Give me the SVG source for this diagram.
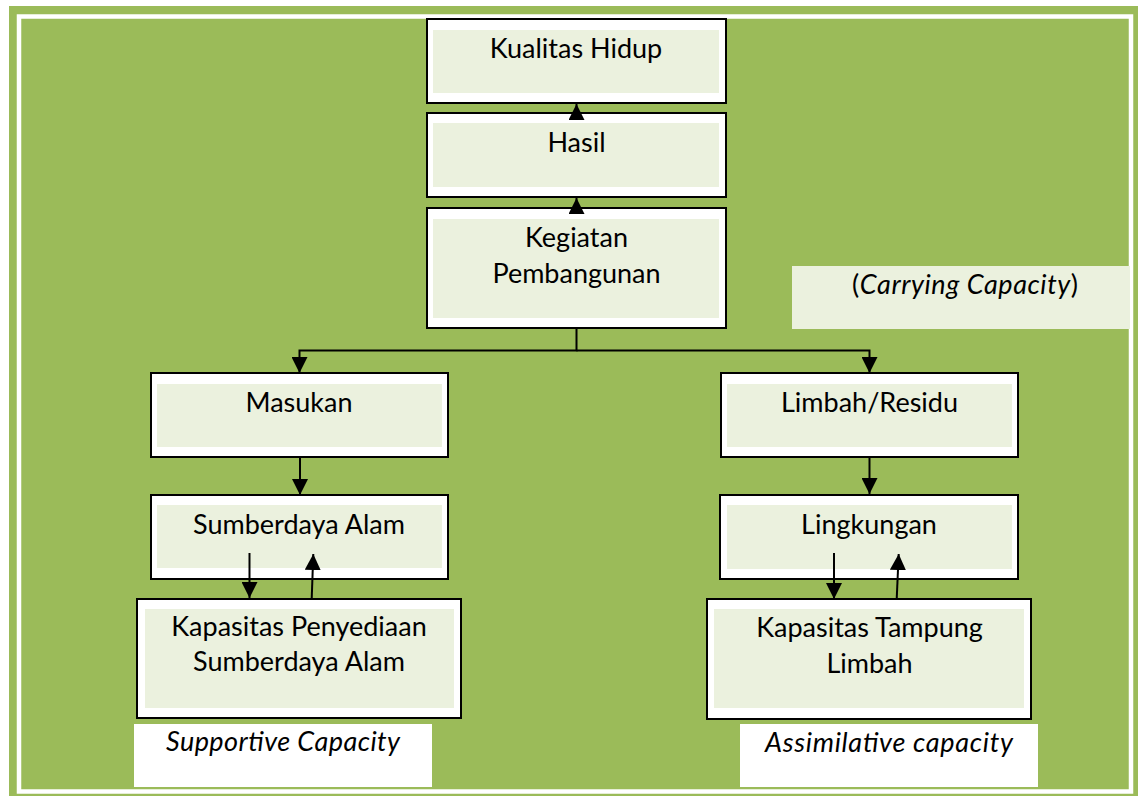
<svg xmlns="http://www.w3.org/2000/svg" width="1138" height="796" viewBox="0 0 1138 796">
<defs>
<style>
.bg{fill:#9BBB59}
.frame{fill:none;stroke:#FFFFFF;stroke-width:4.5}
.outer{fill:#FFFFFF;stroke:#000000;stroke-width:2}
.inner{fill:#EBF1DE}
.white{fill:#FFFFFF}
.t{font-family:Lato,"Open Sans","Liberation Sans",sans-serif;font-size:27px;fill:#000000;text-anchor:middle}
.it{font-style:italic}
.c{fill:none;stroke:#000000;stroke-width:2}
</style>
<marker id="ah" viewBox="0 0 16 16" refX="16" refY="8" markerWidth="16" markerHeight="16" markerUnits="userSpaceOnUse" orient="auto">
<path d="M0,0 L16,8 L0,16 z" fill="#000000"/>
</marker>
</defs>
<rect x="0" y="0" width="1138" height="796" fill="#FFFFFF"/>
<rect class="bg" x="9" y="6" width="1129" height="790"/>
<rect class="frame" x="19" y="16.5" width="1112" height="775"/>

<g id="kualitas-hidup">
<rect class="outer" x="427" y="19" width="299" height="84"/>
<rect class="inner" x="433" y="30" width="286" height="63"/>
<text class="t" x="576" y="58">Kualitas Hidup</text>
</g>
<g id="hasil">
<rect class="outer" x="427" y="113" width="299" height="84"/>
<rect class="inner" x="433" y="123" width="286" height="64"/>
<text class="t" x="576.5" y="152">Hasil</text>
</g>
<g id="kegiatan-pembangunan">
<rect class="outer" x="427" y="208" width="299" height="120"/>
<rect class="inner" x="433" y="219" width="286" height="99"/>
<text class="t" x="576.5" y="247">Kegiatan</text>
<text class="t" x="576.5" y="283">Pembangunan</text>
</g>
<g id="carrying-capacity">
<rect class="inner" x="792" y="266" width="338" height="63"/>
<text class="t" x="965" y="294" textLength="226" lengthAdjust="spacing">(<tspan class="it">Carrying Capacity</tspan>)</text>
</g>
<g id="masukan">
<rect class="outer" x="151" y="373" width="297" height="84"/>
<rect class="inner" x="157" y="384" width="285" height="63"/>
<text class="t" x="299" y="412">Masukan</text>
</g>
<g id="sumberdaya-alam">
<rect class="outer" x="151" y="495" width="297" height="84"/>
<rect class="inner" x="157" y="505" width="285" height="63"/>
<text class="t" x="299" y="534">Sumberdaya Alam</text>
</g>
<g id="kapasitas-penyediaan">
<rect class="outer" x="137" y="599" width="324" height="119"/>
<rect class="inner" x="145" y="609" width="309" height="99"/>
<text class="t" x="299" y="636">Kapasitas Penyediaan</text>
<text class="t" x="299" y="671">Sumberdaya Alam</text>
</g>
<g id="supportive-capacity">
<rect class="white" x="134" y="724" width="298" height="63"/>
<text class="t it" x="283" y="751" textLength="234" lengthAdjust="spacing">Supportive Capacity</text>
</g>
<g id="limbah-residu">
<rect class="outer" x="721" y="373" width="297" height="84"/>
<rect class="inner" x="727" y="384" width="285" height="63"/>
<text class="t" x="869.5" y="412">Limbah/Residu</text>
</g>
<g id="lingkungan">
<rect class="outer" x="720" y="495" width="298" height="84"/>
<rect class="inner" x="727" y="505" width="285" height="64"/>
<text class="t" x="869" y="534">Lingkungan</text>
</g>
<g id="kapasitas-tampung">
<rect class="outer" x="707" y="599" width="324" height="120"/>
<rect class="inner" x="714" y="609" width="310" height="99"/>
<text class="t" x="869.5" y="637">Kapasitas Tampung</text>
<text class="t" x="869.5" y="673">Limbah</text>
</g>
<g id="assimilative-capacity">
<rect class="white" x="740" y="724" width="298" height="63"/>
<text class="t it" x="889" y="752" textLength="248" lengthAdjust="spacing">Assimilative capacity</text>
</g>

<g id="connectors">
<path class="c" d="M576.5,120 V104" marker-end="url(#ah)"/>
<path class="c" d="M576.5,214 V198" marker-end="url(#ah)"/>
<path class="c" d="M576.5,329 V350.5 H299.5 V373" marker-end="url(#ah)"/>
<path class="c" d="M576.5,350.5 H869.5 V373" marker-end="url(#ah)"/>
<path class="c" d="M300,457 V495" marker-end="url(#ah)"/>
<path class="c" d="M869.5,457 V494" marker-end="url(#ah)"/>
<path class="c" d="M249.5,553 V598" marker-end="url(#ah)"/>
<path class="c" d="M311.7,599 L313.3,554" marker-end="url(#ah)"/>
<path class="c" d="M834,553 V599" marker-end="url(#ah)"/>
<path class="c" d="M896.7,599 L898.7,554" marker-end="url(#ah)"/>
</g>
</svg>
